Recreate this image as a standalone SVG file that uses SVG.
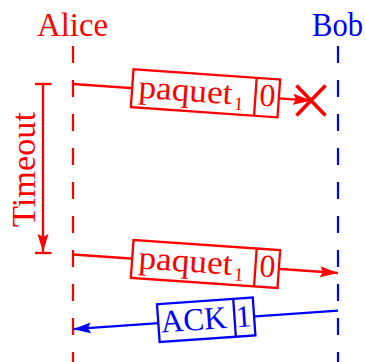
<svg xmlns="http://www.w3.org/2000/svg" width="366" height="362" viewBox="0 0 366 362">
<style>
text{font-family:"Liberation Serif","Times New Roman",serif;}
.r{fill:#ff0000;}
.b{fill:#0000ff;}
.ls{fill:none;stroke-width:2.2;stroke-dasharray:17 17;}
.ln{fill:none;stroke-width:2.3;}
.box{fill:#ffffff;stroke-width:2.3;}
</style>
<defs>
<marker id="ar" markerUnits="userSpaceOnUse" viewBox="0 0 19 12" refX="18" refY="6" markerWidth="19" markerHeight="12" orient="auto">
<path d="M0,0.5 L18,6 L0,11.5 L3,6 Z" fill="#ff0000"/>
</marker>
<marker id="ab" markerUnits="userSpaceOnUse" viewBox="0 0 19 12" refX="18" refY="6" markerWidth="19" markerHeight="12" orient="auto">
<path d="M0,0.5 L18,6 L0,11.5 L3,6 Z" fill="#0000ff"/>
</marker>
</defs>

<g id="alice">
<text class="r" x="72.5" y="35.5" font-size="33" text-anchor="middle" textLength="71" lengthAdjust="spacingAndGlyphs">Alice</text>
<line class="ls" x1="73" y1="46" x2="73" y2="362" stroke="#ff0000"/>
</g>
<g id="bob">
<text class="b" x="337.5" y="35.5" font-size="33" text-anchor="middle" textLength="51" lengthAdjust="spacingAndGlyphs">Bob</text>
<line class="ls" x1="338" y1="46" x2="338" y2="362" stroke="#0000ff"/>
</g>

<g id="timeout">
<line class="ln" x1="35" y1="84" x2="51.5" y2="84" stroke="#ff0000"/>
<line class="ln" x1="35" y1="253" x2="51.5" y2="253" stroke="#ff0000"/>
<line class="ln" x1="43" y1="84" x2="43" y2="252" stroke="#ff0000" marker-end="url(#ar)"/>
<text class="r" transform="translate(34.5,169.5) rotate(-90)" font-size="33" text-anchor="middle" textLength="115" lengthAdjust="spacingAndGlyphs">Timeout</text>
</g>

<g id="connectors">
<line class="ln" x1="73" y1="84" x2="311" y2="100.6" stroke="#ff0000" marker-end="url(#ar)"/>
<line class="ln" x1="73" y1="254.5" x2="338" y2="273" stroke="#ff0000" marker-end="url(#ar)"/>
<line class="ln" x1="338" y1="310.7" x2="73" y2="329.2" stroke="#0000ff" marker-end="url(#ab)"/>
</g>

<g id="lost">
<path d="M296.5,85.5 L325.5,115.5 M325.5,85.5 L296.5,115.5" stroke="#ff0000" stroke-width="3.6" fill="none"/>
</g>

<g id="msg1" transform="translate(205.5,93.3) rotate(4)">
<rect class="box" x="-73.5" y="-19" width="147" height="38" stroke="#ff0000"/>
<line x1="50" y1="-19" x2="50" y2="19" stroke="#ff0000" stroke-width="2.3"/>
<text class="r" x="-67" y="9" font-size="33" textLength="94" lengthAdjust="spacingAndGlyphs">paquet</text>
<text class="r" x="29" y="14.5" font-size="19">1</text>
<text class="r" x="62" y="8.5" font-size="32" text-anchor="middle">0</text>
</g>

<g id="msg2" transform="translate(205.5,264) rotate(4)">
<rect class="box" x="-73.5" y="-19" width="147" height="38" stroke="#ff0000"/>
<line x1="50" y1="-19" x2="50" y2="19" stroke="#ff0000" stroke-width="2.3"/>
<text class="r" x="-67" y="9" font-size="33" textLength="94" lengthAdjust="spacingAndGlyphs">paquet</text>
<text class="r" x="29" y="14.5" font-size="19">1</text>
<text class="r" x="62" y="8.5" font-size="32" text-anchor="middle">0</text>
</g>

<g id="ack" transform="translate(206.2,319.8) rotate(-4)">
<rect class="box" x="-48" y="-19" width="96" height="38" stroke="#0000ff"/>
<line x1="28.4" y1="-19" x2="28.4" y2="19" stroke="#0000ff" stroke-width="2.3"/>
<text class="b" x="-12.5" y="9.5" font-size="32" text-anchor="middle" textLength="66" lengthAdjust="spacingAndGlyphs">ACK</text>
<text class="b" x="37.5" y="9.5" font-size="31" text-anchor="middle">1</text>
</g>
</svg>
